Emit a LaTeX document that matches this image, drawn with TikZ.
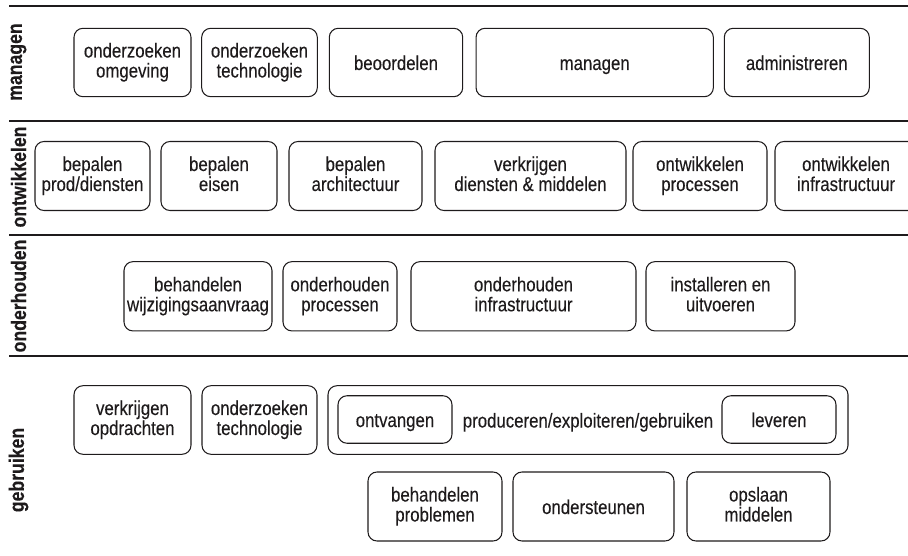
\documentclass[tikz,border=0pt]{standalone}
\usepackage{fontspec}
\setmainfont{Liberation Sans}[FakeStretch=0.84, FakeBold=0.2]
\definecolor{ink}{HTML}{1E1B1C}
% fixed line extent so that every box text sits on the same baseline
\newcommand\boxstrut{\rule[-4.5pt]{0pt}{24pt}}
\begin{document}
\begin{tikzpicture}[x=1pt,y=-1pt,
  txt/.style={font=\fontsize{20}{20}\selectfont, text=ink},
  box/.style={txt, draw=ink, line width=1.05pt, rounded corners=9pt,
    align=center, inner sep=0pt,
    execute at begin node=\boxstrut, execute at end node=\boxstrut},
  bw/.style={minimum width=#1pt},
  bh/.style={minimum height=#1pt},
  band/.style={draw=ink, line width=2pt},
  lane/.style={font=\bfseries\fontsize{21}{20}\selectfont, text=ink,
    rotate=90, inner sep=0pt}]
\useasboundingbox (0,0) rectangle (908,556);

% band separators
\draw[band] (9,6.5) -- (910,6.5);
\draw[band] (9,121) -- (910,121);
\draw[band] (9,235) -- (910,235);
\draw[band] (9,355.5) -- (910,355.5);

% lane titles
\node[lane] (lmanagen) at (18.5,62) {managen};
\node[lane] (lontw) at (18.5,177) {ontwikkelen};
\node[lane] (londer) at (18.5,296) {onderhouden};
\node[lane] (lgebr) at (18.5,470) {gebruiken};

% managen
\begin{scope}[every node/.append style={bh=68.4}]
\node[box,bw=117] (m1) at (132.5,62.5) {onderzoeken\\omgeving};
\node[box,bw=115.6] (m2) at (259.5,62.5) {onderzoeken\\technologie};
\node[box,bw=133.4] (m3) at (396,62.5) {beoordelen};
\node[box,bw=237.3] (m4) at (594.7,62.5) {managen};
\node[box,bw=145] (m5) at (796.8,62.5) {administreren};
\end{scope}

% ontwikkelen
\begin{scope}[every node/.append style={bh=69}]
\node[box,bw=115] (o1) at (92.5,176) {bepalen\\prod/diensten};
\node[box,bw=116] (o2) at (219,176) {bepalen\\eisen};
\node[box,bw=133] (o3) at (355.5,176) {bepalen\\architectuur};
\node[box,bw=191] (o4) at (530.5,176) {verkrijgen\\diensten \& middelen};
\node[box,bw=134] (o5) at (700,176) {ontwikkelen\\processen};
\node[box,bw=142] (o6) at (846,176) {ontwikkelen\\infrastructuur};
\end{scope}

% onderhouden
\begin{scope}[every node/.append style={bh=69.3}]
\node[box,bw=148] (h1) at (198,296.3) {behandelen\\wijzigingsaanvraag};
\node[box,bw=114] (h2) at (340,296.3) {onderhouden\\processen};
\node[box,bw=225] (h3) at (523.5,296.3) {onderhouden\\infrastructuur};
\node[box,bw=149] (h4) at (720.5,296.3) {installeren en\\uitvoeren};
\end{scope}

% gebruiken
\begin{scope}[every node/.append style={bh=68.6}]
\node[box,bw=117] (g1) at (132.5,420) {verkrijgen\\opdrachten};
\node[box,bw=115] (g2) at (259.5,420) {onderzoeken\\technologie};
\node[box,bw=520] (g3) at (588,420) {produceren/exploiteren/gebruiken};
\end{scope}
\node[box,bw=114,bh=47.5] (g3a) at (395,419.5) {ontvangen};
\node[box,bw=114,bh=47.5] (g3b) at (779,419.5) {leveren};

\begin{scope}[every node/.append style={bh=69}]
\node[box,bw=134] (g4) at (435,506.5) {behandelen\\problemen};
\node[box,bw=161] (g5) at (593.5,506.5) {ondersteunen};
\node[box,bw=143] (g6) at (758.5,506.5) {opslaan\\middelen};
\end{scope}
\end{tikzpicture}
\end{document}
